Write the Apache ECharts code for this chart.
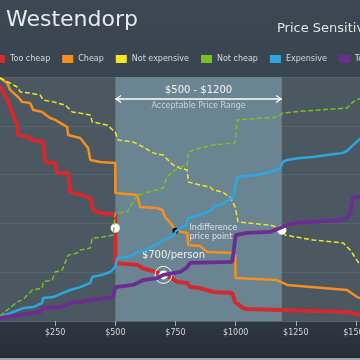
<!DOCTYPE html>
<html>
<head>
<meta charset="utf-8">
<script src="https://cdn.jsdelivr.net/npm/echarts@6/dist/echarts.min.js"></script>
<style>
html,body{margin:0;padding:0;background:#36424d;}
#chart{width:360px;height:360px;}
</style>
</head>
<body>
<div id="chart"></div>
<script>
// ---- data (price in $, share of respondents in %) ----
const seriesNames = ['Too cheap', 'Cheap', 'Not expensive', 'Not cheap', 'Expensive', 'Too expensive'];
const xTicks = [0, 250, 500, 750, 1000, 1250, 1500];

const tooCheap = [[20,96.5],[47,91.4],[92,80.3],[96,76.2],[138,75.4],[155,74.2],[200,73.4],[209,65.2],[250,64.8],[258,60.7],[304,60.7],[312,52.9],[362,51.6],[396,50.4],[408,45.5],[437,44.3],[479,43.9],[500,43.4],[500,23.8],[591,23.0],[612,21.7],[666,20.1],[700,18.9],[736,17.6],[757,16.0],[799,15.6],[811,13.9],[852,13.5],[907,11.9],[986,11.5],[990,10.2],[998,7.8],[1031,5.3],[1048,4.9],[1463,3.7],[1496,2.9],[1530,2.0]];
const cheap = [[20,99.6],[51,97.5],[63,94.7],[96,91.8],[113,89.8],[146,89.3],[159,86.5],[196,85.7],[229,83.2],[250,82.4],[300,79.5],[304,76.2],[354,75.0],[387,70.9],[396,66.0],[437,65.2],[500,64.8],[500,52.5],[591,51.6],[603,46.7],[674,46.3],[695,45.5],[707,42.6],[736,39.3],[750,37.0],[799,36.1],[803,31.1],[853,30.7],[882,28.3],[986,27.9],[998,26.6],[1000,17.6],[1172,16.8],[1214,14.8],[1463,12.7],[1505,9.8],[1530,9.0]];
const notExpensive = [[20,99.6],[63,97.5],[92,95.9],[105,93.9],[146,93.4],[188,92.6],[200,90.6],[242,89.8],[292,88.5],[321,85.7],[354,85.2],[396,84.4],[404,81.6],[466,80.3],[499,77.5],[512,74.2],[574,73.4],[616,71.3],[657,68.9],[699,68.0],[740,63.9],[769,62.7],[799,61.9],[803,57.0],[853,55.7],[894,54.9],[907,53.7],[944,52.9],[977,50.8],[998,46.7],[1010,40.6],[1143,39.3],[1185,38.1],[1206,35.2],[1322,33.2],[1447,32.0],[1476,29.1],[1517,23.0],[1538,20.1]];
const notCheap = [[20,2.0],[51,4.5],[92,7.8],[113,8.6],[126,9.8],[155,12.7],[196,13.5],[200,16.0],[238,16.8],[250,20.1],[279,20.9],[304,27.0],[342,27.9],[354,29.1],[396,29.9],[404,34.0],[445,34.4],[491,35.2],[500,44.3],[549,44.7],[574,48.8],[591,51.6],[699,54.5],[715,59.0],[749,61.9],[769,63.1],[799,63.9],[803,69.3],[853,70.9],[907,72.1],[998,73.0],[1006,82.4],[1172,83.6],[1197,85.2],[1239,85.7],[1463,87.3],[1488,89.8],[1530,91.8]];
const expensive = [[20,1.6],[76,3.7],[117,5.3],[159,5.7],[196,7.4],[200,9.4],[242,9.8],[283,11.5],[312,12.7],[354,13.9],[396,15.6],[404,18.0],[445,18.9],[479,20.1],[500,22.1],[508,25.8],[549,26.2],[574,27.0],[591,28.3],[632,29.1],[645,30.3],[686,32.0],[699,33.2],[740,34.8],[753,36.9],[769,38.1],[794,39.3],[803,42.2],[836,43.0],[902,45.5],[911,47.1],[948,48.0],[990,50.8],[1006,59.0],[1089,59.8],[1143,61.1],[1185,62.7],[1197,65.2],[1214,66.0],[1268,66.8],[1322,67.2],[1380,68.0],[1447,68.9],[1463,69.7],[1488,72.1],[1530,75.8]];
const tooExpensive = [[20,1.2],[105,2.5],[159,3.3],[188,3.7],[196,5.3],[271,5.7],[300,6.6],[312,7.4],[354,7.8],[396,8.6],[404,9.4],[491,9.8],[500,13.9],[574,14.8],[591,15.6],[616,16.8],[674,17.6],[700,18.9],[769,20.1],[799,22.1],[811,23.8],[986,24.2],[990,25.0],[1000,35.2],[1048,36.1],[1143,36.5],[1185,38.1],[1214,39.3],[1256,40.2],[1434,41.4],[1463,42.2],[1476,44.3],[1488,50.8],[1530,50.8]];

// key points
const acceptableRange = [500, 1192];
const rangeLabel = '$500 - $1200';
const marginalCheap = [500, 38.1];
const marginalExpensive = [1192, 37.3];
const indifference = [750, 37.0];
const optimal = [700, 18.9];

const colors = ['#d12a2f', '#f5901f', '#f2e626', '#78c21f', '#2aa9e0', '#6b2d92'];
const widths = [4, 2.5, 1.5, 1.5, 2.5, 3.8];
const dashed = [false, false, true, true, false, false];
const dataSets = [tooCheap, cheap, notExpensive, notCheap, expensive, tooExpensive];

const FONT = 'DejaVu Sans';
const chevron = 'path://M5,8 L10,16 L8.6,16.8 L5,11 L1.4,16.8 L0,16 Z M5,0 L5.01,0 L5,0.01 Z';

const series = dataSets.map((d, i) => ({
  name: seriesNames[i],
  type: 'line',
  data: d,
  showSymbol: false,
  symbol: 'none',
  smooth: false,
  color: colors[i],
  itemStyle: {color: colors[i]},
  lineStyle: {color: colors[i], width: widths[i], type: dashed[i] ? [5, 2.5] : 'solid'},
  z: 2 + i,
  animation: false
}));

series[0].markArea = {
  silent: true,
  itemStyle: {color: '#6b8492'},
  data: [[{xAxis: acceptableRange[0]}, {xAxis: acceptableRange[1]}]]
};

series.push({
  name: 'annotations',
  type: 'line',
  data: [],
  z: 20,
  markLine: {
    silent: true,
    symbol: [chevron, chevron],
    symbolSize: [8, 12],
    lineStyle: {color: '#ffffff', width: 1.5, type: 'solid'},
    label: {show: false},
    data: [[{coord: [acceptableRange[0], 91]}, {coord: [acceptableRange[1], 91]}]]
  },
  markPoint: {
    silent: true,
    data: [
      {coord: [(acceptableRange[0] + acceptableRange[1]) / 2, 94.7], symbol: 'circle', symbolSize: 1, itemStyle: {color: 'rgba(0,0,0,0)'},
        label: {show: true, position: 'inside', formatter: rangeLabel, color: '#f2f4f5', fontSize: 10, fontFamily: FONT}},
      {coord: [(acceptableRange[0] + acceptableRange[1]) / 2, 88.1], symbol: 'circle', symbolSize: 1, itemStyle: {color: 'rgba(0,0,0,0)'},
        label: {show: true, position: 'inside', formatter: 'Acceptable Price Range', color: '#c9d3d9', fontSize: 8, fontFamily: FONT}},
      {coord: marginalCheap, symbol: 'circle', symbolSize: 9, itemStyle: {color: '#ffffff', borderColor: '#d8d8d8', borderWidth: 0.5}, label: {show: false}},
      {coord: marginalExpensive, symbol: 'circle', symbolSize: 9, itemStyle: {color: '#ffffff', borderColor: '#d8d8d8', borderWidth: 0.5}, label: {show: false}},
      {coord: indifference, symbol: 'circle', symbolSize: 6, itemStyle: {color: '#000000'},
        label: {show: true, position: 'right', distance: 11, offset: [0, 2], formatter: 'Indifference\nprice point', color: '#dde2e5', fontSize: 8, lineHeight: 9, fontFamily: FONT, align: 'left'}},
      {coord: optimal, symbol: 'circle', symbolSize: 17, itemStyle: {color: 'rgba(0,0,0,0)', borderColor: '#ffffff', borderWidth: 1},
        label: {show: true, position: 'top', distance: 5, offset: [10, 0], formatter: '$700/person', color: '#eef1f3', fontSize: 10, fontFamily: FONT}},
      {coord: optimal, symbol: 'circle', symbolSize: 9, itemStyle: {color: '#ffffff'}, label: {show: false}}
    ]
  },
  animation: false
});

const chart = echarts.init(document.getElementById('chart'), null, {renderer: 'canvas'});
chart.setOption({
  animation: false,
  backgroundColor: {
    type: 'linear', x: 0, y: 0, x2: 0, y2: 1,
    colorStops: [{offset: 0, color: '#3b4752'}, {offset: 0.85, color: '#333d47'}, {offset: 1, color: '#252d35'}]
  },
  textStyle: {fontFamily: FONT},
  title: [
    {text: 'Westendorp', left: 6, top: 9, padding: 0, textStyle: {color: '#e6eaed', fontSize: 22, fontWeight: 'normal', fontFamily: FONT}},
    {text: 'Price Sensitivity Meter', left: 277, top: 22, padding: 0, textStyle: {color: '#e1e6e9', fontSize: 13, fontWeight: 'normal', fontFamily: FONT}}
  ],
  legend: {
    data: seriesNames,
    left: -6,
    top: 55,
    width: 800,
    padding: 0,
    icon: 'rect',
    itemWidth: 11,
    itemHeight: 8,
    itemGap: 12,
    textStyle: {color: '#d3d9dd', fontSize: 8, fontFamily: FONT},
    itemStyle: {borderWidth: 0}
  },
  grid: {
    left: -5, right: -20, top: 77, bottom: 39,
    show: true, backgroundColor: '#4b5761', borderWidth: 0,
    containLabel: false,
    outerBoundsMode: 'none'
  },
  xAxis: {
    type: 'value',
    min: 0, max: 1600, interval: 250,
    axisLine: {show: false},
    axisTick: {show: true, length: 5, lineStyle: {color: '#a3abb1', width: 1}},
    splitLine: {show: false},
    axisLabel: {color: '#d3d8dc', fontSize: 8, margin: 8, fontFamily: FONT,
      formatter: v => xTicks.indexOf(v) >= 0 ? '$' + v : ''}
  },
  yAxis: {
    type: 'value',
    min: 0, max: 100, interval: 20,
    axisLine: {show: false},
    axisTick: {show: false},
    axisLabel: {show: false},
    splitLine: {show: true, lineStyle: {color: '#57636c', width: 1}}
  },
  graphic: [
    {type: 'rect', left: 0, bottom: 0, shape: {width: 360, height: 2}, style: {fill: '#9aa1a7'}, silent: true}
  ],
  series: series
});
</script>
</body>
</html>
